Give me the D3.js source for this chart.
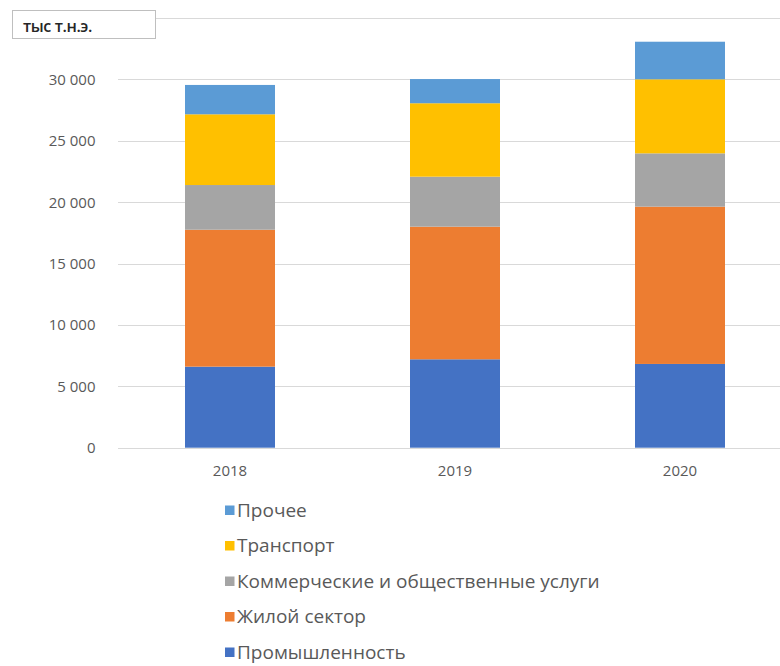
<!DOCTYPE html>
<html>
<head>
<meta charset="utf-8">
<script src="https://cdn.jsdelivr.net/npm/d3@7"></script>
<style>
  html, body { margin: 0; padding: 0; background: #fff; }
  svg { display: block; font-family: "Open Sans", "Noto Sans", sans-serif; }
</style>
</head>
<body>
<svg id="chart" width="780" height="666"></svg>
<script>
// Final energy consumption by sector, thousand toe
const years = ["2018", "2019", "2020"];
const industry    = [6600, 7200, 6820];   // Промышленность
const residential = [11150, 10800, 12810]; // Жилой сектор
const commercial  = [3640, 4070, 4340];   // Коммерческие и общественные услуги
const transport   = [5760, 5980, 6030];   // Транспорт
const other       = [2390, 1970, 3060];   // Прочее

const seriesNames = ["Промышленность", "Жилой сектор", "Коммерческие и общественные услуги", "Транспорт", "Прочее"];
const seriesKeys = ["industry", "residential", "commercial", "transport", "other"];
const seriesColors = ["#4472C4", "#ED7D31", "#A5A5A5", "#FFC000", "#5B9BD5"];
const gridTicks = [0, 5000, 10000, 15000, 20000, 25000, 30000, 35000];
const labelTicks = [0, 5000, 10000, 15000, 20000, 25000, 30000];
const unitLabel = "тыс т.н.э.";

const rows = years.map((y, i) => ({
  year: y,
  industry: industry[i],
  residential: residential[i],
  commercial: commercial[i],
  transport: transport[i],
  other: other[i]
}));

const svg = d3.select("#chart");

const x = d3.scaleBand()
  .domain(years)
  .range([117.5, 792.5])
  .paddingInner(0.6)
  .paddingOuter(0.3);

const y = d3.scaleLinear()
  .domain([0, 35000])
  .range([447.7, 17.9]);

const fmt = v => d3.format(",")(v).replace(/,/g, " ");

// horizontal gridlines
svg.append("g")
  .selectAll("line")
  .data(gridTicks)
  .join("line")
  .attr("x1", 118)
  .attr("x2", 780)
  .attr("y1", d => Math.round(y(d)) + 0.5)
  .attr("y2", d => Math.round(y(d)) + 0.5)
  .attr("stroke", "#d9d9d9")
  .attr("stroke-width", 1);

// y tick labels
svg.append("g")
  .selectAll("text")
  .data(labelTicks)
  .join("text")
  .attr("x", 95.5)
  .attr("y", d => y(d))
  .attr("dy", "0.36em")
  .attr("text-anchor", "end")
  .attr("font-size", 15)
  .attr("fill", "#595959")
  .text(d => fmt(d));

// stacked bars
const stack = d3.stack().keys(seriesKeys);
const layers = stack(rows);

svg.append("g")
  .selectAll("g")
  .data(layers)
  .join("g")
  .attr("fill", (d, i) => seriesColors[i])
  .selectAll("rect")
  .data(d => d)
  .join("rect")
  .attr("x", d => x(d.data.year))
  .attr("width", x.bandwidth())
  .attr("y", d => y(d[1]))
  .attr("height", d => y(d[0]) - y(d[1]));

// x axis labels
svg.append("g")
  .selectAll("text")
  .data(years)
  .join("text")
  .attr("x", d => x(d) + x.bandwidth() / 2)
  .attr("y", 476)
  .attr("text-anchor", "middle")
  .attr("font-size", 15)
  .attr("fill", "#595959")
  .text(d => d);

// unit label box over the top gridline
svg.append("rect")
  .attr("x", 12.5)
  .attr("y", 10.5)
  .attr("width", 143)
  .attr("height", 28)
  .attr("fill", "#fff")
  .attr("stroke", "#bfbfbf")
  .attr("stroke-width", 1);

svg.append("text")
  .attr("x", 23)
  .attr("y", 32)
  .attr("font-size", 16)
  .attr("font-weight", 600)
  .attr("letter-spacing", -0.4)
  .attr("fill", "#262626")
  .text(unitLabel);

// legend, listed top-down from the last series
const legendItems = seriesNames.map((n, i) => ({ name: n, color: seriesColors[i] })).reverse();
const legend = svg.append("g")
  .selectAll("g")
  .data(legendItems)
  .join("g")
  .attr("transform", (d, i) => `translate(225, ${510 + i * 35.5})`);

legend.append("rect")
  .attr("x", 0)
  .attr("y", -4.5)
  .attr("width", 9.5)
  .attr("height", 9.5)
  .attr("fill", d => d.color);

legend.append("text")
  .attr("x", 12)
  .attr("y", 0)
  .attr("dy", "0.36em")
  .attr("font-size", 19)
  .attr("fill", "#595959")
  .text(d => d.name);
</script>
</body>
</html>
